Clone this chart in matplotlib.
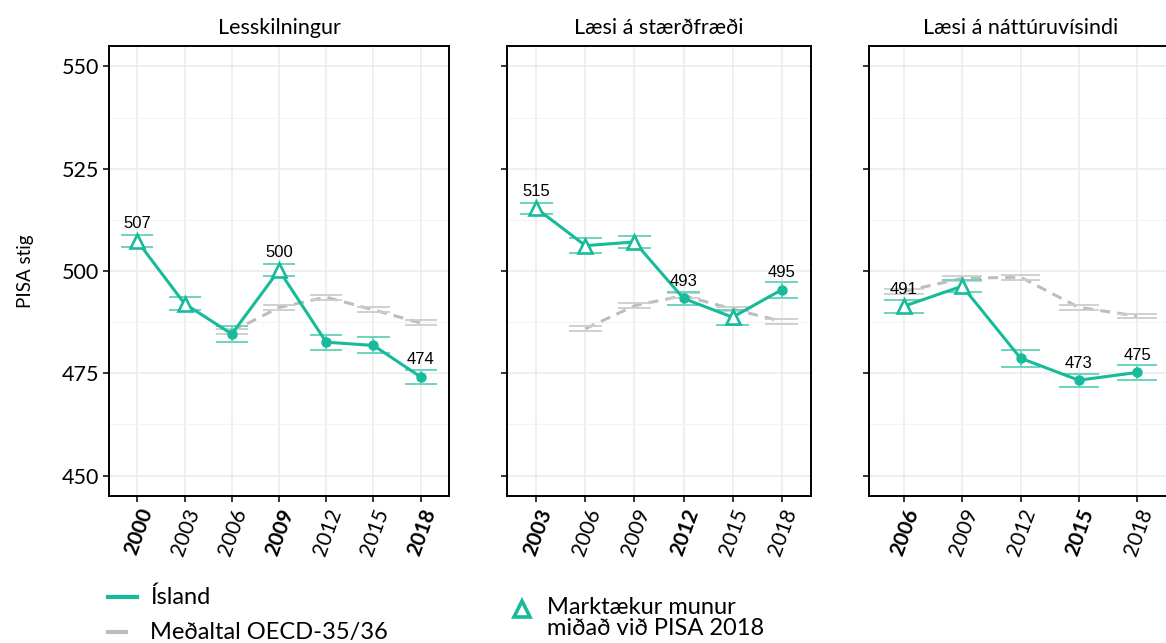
import matplotlib
matplotlib.use('Agg')
import matplotlib.pyplot as plt
from matplotlib.lines import Line2D
import numpy as np

# data
titles = ['Lesskilningur', 'Læsi á stærðfræði', 'Læsi á náttúruvísindi']

years_read = ['2000', '2003', '2006', '2009', '2012', '2015', '2018']
isl_read = [507.3, 492.0, 484.6, 500.2, 482.6, 481.8, 474.1]
isl_read_ci = [1.5, 1.55, 1.9, 1.4, 1.8, 1.95, 1.75]
sig_read = [True, True, False, True, False, False, False]
oecd_read = [np.nan, np.nan, 485.2, 491.1, 493.6, 490.5, 487.3]
lab_read = ['2000', '2009', '2018']
bold_read = ['2000', '2009', '2018']

years_math = ['2003', '2006', '2009', '2012', '2015', '2018']
isl_math = [515.3, 506.2, 507.1, 493.3, 488.7, 495.4]
isl_math_ci = [1.4, 1.75, 1.4, 1.6, 1.8, 1.9]
sig_math = [True, True, True, False, True, False]
oecd_math = [np.nan, 485.9, 491.5, 494.0, 490.7, 487.7]
lab_math = ['2003', '2012', '2018']
bold_math = ['2003', '2012']

years_sci = ['2006', '2009', '2012', '2015', '2018']
isl_sci = [491.4, 496.3, 478.7, 473.3, 475.2]
isl_sci_ci = [1.6, 1.4, 2.1, 1.6, 1.75]
sig_sci = [True, True, False, False, False]
oecd_sci = [495.0, 498.2, 498.5, 491.1, 489.0]
lab_sci = ['2006', '2015', '2018']
bold_sci = ['2006', '2015']

oecd_ci = 0.6

TEAL = '#17BB9A'
TEAL_LT = '#6AD4BE'
GREY = '#BDBDBD'
GREY_LT = '#CDCDCD'

W, H = 1166, 643
fig = plt.figure(figsize=(W / 100, H / 100), dpi=100)


def box(l, r, t, b):
    return [l / W, 1 - b / H, (r - l) / W, (b - t) / H]


panels = [
    (box(109, 449, 46, 496), years_read, isl_read, isl_read_ci, sig_read, oecd_read, lab_read, bold_read),
    (box(507, 811, 46, 496), years_math, isl_math, isl_math_ci, sig_math, oecd_math, lab_math, bold_math),
    (box(869, 1172, 46, 496), years_sci, isl_sci, isl_sci_ci, sig_sci, oecd_sci, lab_sci, bold_sci),
]

for k, (rect, yrs, isl, ci, sig, oecd, labs, bolds) in enumerate(panels):
    ax = fig.add_axes(rect)
    x = np.arange(len(yrs))
    isl = np.array(isl)
    ci = np.array(ci)
    oecd = np.array(oecd, dtype=float)
    hw = 0.34

    # OECD average
    ax.plot(x, oecd, color=GREY, lw=2.2, ls=(0, (3.3, 2.3)), zorder=3)
    ok = ~np.isnan(oecd)
    ax.hlines(oecd[ok] + oecd_ci, x[ok] - hw, x[ok] + hw, color=GREY_LT, lw=1.3, zorder=3)
    ax.hlines(oecd[ok] - oecd_ci, x[ok] - hw, x[ok] + hw, color=GREY_LT, lw=1.3, zorder=3)

    # Iceland
    ax.vlines(x, isl - ci, isl + ci, color=TEAL_LT, lw=1.4, zorder=4)
    ax.hlines(isl + ci, x - hw, x + hw, color=TEAL_LT, lw=1.4, zorder=4)
    ax.hlines(isl - ci, x - hw, x + hw, color=TEAL_LT, lw=1.4, zorder=4)
    ax.plot(x, isl, color=TEAL, lw=2.2, zorder=5)
    sig = np.array(sig)
    ax.plot(x[sig], isl[sig], ls='none', marker='^', ms=10.5, mfc='white',
            mec=TEAL, mew=1.9, zorder=6)
    ax.plot(x[~sig], isl[~sig], ls='none', marker='o', ms=6.5, color=TEAL, zorder=6)

    for i, y in enumerate(yrs):
        if y in labs:
            ax.text(x[i], isl[i] + 4.2, f'{isl[i]:.0f}', ha='center', va='center',
                    fontsize=12, family='Liberation Sans', zorder=7)

    ax.set_xlim(-0.6, len(yrs) - 0.4)
    ax.set_ylim(445, 555)
    ax.set_xticks(x)
    ax.set_xticklabels(yrs)
    ax.set_yticks([450, 475, 500, 525, 550])
    ax.set_yticks([462.5, 487.5, 512.5, 537.5], minor=True)
    ax.grid(True, which='major', color='#EBEBEB', lw=1.1, zorder=0)
    ax.grid(True, which='minor', axis='y', color='#F3F3F3', lw=0.8, zorder=0)
    ax.set_axisbelow(True)
    for s in ax.spines.values():
        s.set_linewidth(1.4)
        s.set_color('black')
    ax.tick_params(axis='both', which='major', length=4, width=1.1, color='black', pad=3)
    ax.tick_params(axis='y', which='minor', length=0)
    for t in ax.get_xticklabels():
        t.set_rotation(70)
        t.set_ha('right')
        t.set_rotation_mode('anchor')
        t.set_family('Lato')
        t.set_fontsize(15)
        if t.get_text() in bolds:
            t.set_fontweight('bold')
    if k == 0:
        ax.set_yticklabels(['450', '475', '500', '525', '550'], family='Lato', fontsize=15.5)
        ax.set_ylabel('PISA stig', family='Lato', fontsize=13.5, labelpad=20)
    else:
        ax.set_yticklabels([])
    ax.set_title(titles[k], family='Lato', fontsize=15.5, pad=9)


def px(xp, yp):
    return xp / W, 1 - yp / H


# legend
fig.add_artist(Line2D([108 / W, 137 / W], [1 - 597 / H] * 2, color=TEAL, lw=3))
fig.text(*px(150, 597), 'Ísland', family='Lato', fontsize=17, va='center')
fig.add_artist(Line2D([108 / W, 126 / W], [1 - 632 / H] * 2, color=GREY, lw=3))
fig.text(*px(150, 632), 'Meðaltal OECD-35/36', family='Lato', fontsize=17, va='center')
fig.add_artist(Line2D([522 / W], [1 - 609 / H], ls='none', marker='^', ms=11,
                      mfc='white', mec=TEAL, mew=2.6))
fig.text(*px(547, 618), 'Marktækur munur\nmiðað við PISA 2018', family='Lato',
         fontsize=17, va='center', linespacing=1.02)

fig.savefig('out.png', dpi=100)
